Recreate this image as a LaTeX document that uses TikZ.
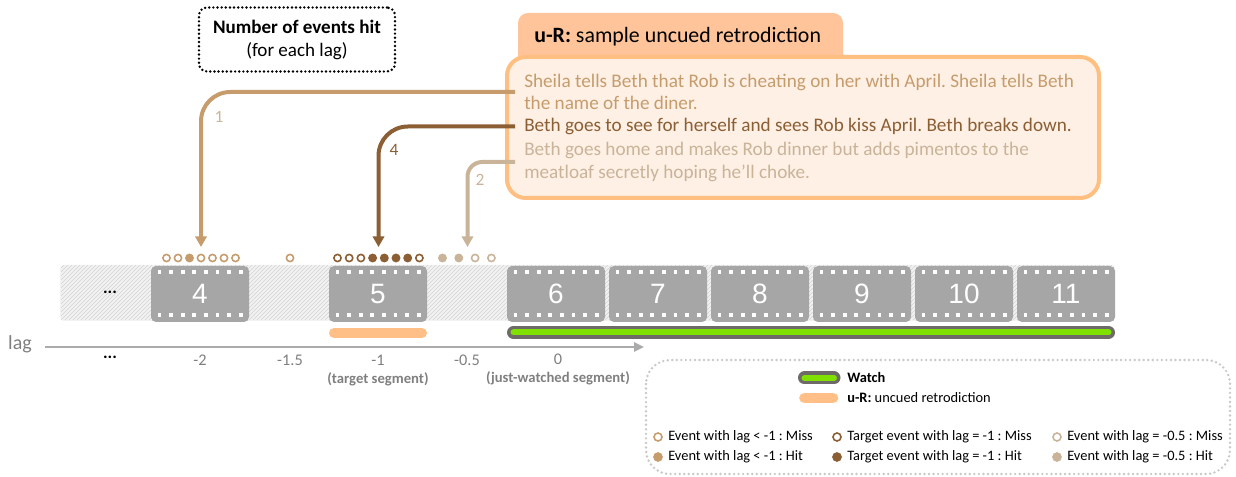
\documentclass[tikz,border=0pt]{standalone}
\usepackage{fontspec}
\setmainfont{Carlito}
\newfontfamily\numfont{Liberation Sans}
\usetikzlibrary{arrows.meta,patterns}
\frenchspacing

\definecolor{lagold}{HTML}{C69C6D}
\definecolor{lagtgt}{HTML}{8B5E34}
\definecolor{laghalf}{HTML}{C9B49A}
\definecolor{filmgray}{HTML}{A6A6A6}
\definecolor{peach}{HTML}{FFC499}
\definecolor{peachline}{HTML}{FFBF80}
\definecolor{peachfill}{HTML}{FEF0E4}
\definecolor{ucolor}{HTML}{FFBF87}
\definecolor{watchgreen}{HTML}{80E000}
\definecolor{watchedge}{HTML}{6E6A68}
\definecolor{axisgray}{HTML}{ABABAB}
\definecolor{labelgray}{HTML}{7F7F7F}
\definecolor{hatchbase}{HTML}{F2F2F2}
\definecolor{hatchline}{HTML}{D3D3D3}
\definecolor{legendline}{HTML}{C8C8C8}

\tikzset{
  filmframe/.style={rectangle, rounded corners=3.75pt, fill=filmgray, text=white,
    minimum width=73.5pt, minimum height=42pt, inner sep=0pt,
    font=\numfont\fontsize{21}{21}\selectfont},
  dot/.style={circle, inner sep=0pt, minimum size=5.4pt, line width=1.2pt},
  opendot/.style={dot, draw=#1, fill=white},
  fulldot/.style={dot, draw=#1, fill=#1},
  conn/.style={line width=3pt, -{Triangle[length=8pt,width=8.5pt]}},
  evtext/.style={anchor=west, inner xsep=6.75pt, inner ysep=0pt, align=left,
    font=\fontsize{14.4}{17.06}\selectfont},
  ticklab/.style={text=labelgray, font=\fontsize{12.2}{13}\selectfont},
  tickbold/.style={text=labelgray, font=\bfseries\fontsize{11}{13}\selectfont},
  countlab/.style={font=\fontsize{13}{15}\selectfont},
  legtext/.style={anchor=west, inner sep=0pt, font=\fontsize{10.8}{13}\selectfont},
  legdot/.style={circle, inner sep=0pt, minimum size=6pt, line width=1.2pt},
}

\begin{document}
\begin{tikzpicture}[x=0.75pt,y=-0.75pt]
\useasboundingbox (0,0) rectangle (1236,477);

% ---------- "Number of events hit" label ----------
\node[draw=black, line width=2pt, dash pattern=on 0pt off 3.1pt, line cap=round,
      rounded corners=6pt, minimum width=147pt, minimum height=48pt, align=center,
      font=\fontsize{14.3}{17.25}\selectfont] (nbox) at (297,39.5)
      {\textbf{Number of events hit}\\(for each lag)};

% ---------- retrodiction sample box ----------
\fill[peach, rounded corners=7.5pt] (518,80) rectangle (843,13);
\node[anchor=west, inner sep=0pt, font=\fontsize{16.4}{19}\selectfont] (hdr) at (534,37)
      {\textbf{u-R:} sample uncued retrodiction};
\node[draw=peachline, fill=peachfill, line width=3pt, rounded corners=14pt,
      minimum width=444pt, minimum height=105.75pt] (box) at (803,127.5) {};

\node[evtext, text=lagold] (ev1) at (515,92)
  {Sheila tells Beth that Rob is cheating on her with April. Sheila tells Beth\\the name of the diner.};
\node[evtext, text=lagtgt] (ev4) at (515,126.5)
  {Beth goes to see for herself and sees Rob kiss April. Beth breaks down.};
\node[evtext, text=laghalf] (ev2) at (515,162)
  {Beth goes home and makes Rob dinner but adds pimentos to the\\meatloaf secretly hoping he'll choke.};

% ---------- film strip ----------
\fill[hatchbase, rounded corners=3pt] (60,265) rectangle (1115,321);
\fill[pattern=north east lines, pattern color=hatchline] (61,266) rectangle (1114,320);

\foreach \n/\cx in {4/200, 5/378, 6/556, 7/658, 8/760, 9/862, 10/964, 11/1066}{
  \node[filmframe] (f\n) at (\cx,294) {\n};
  \foreach \i in {0,...,7}{
    \fill[white] (\cx-42.5+\i*11.6,270.4) rectangle ++(3.8,3.8);
    \fill[white] (\cx-42.5+\i*11.6,313.4) rectangle ++(3.8,3.8);
  }
}
\node[font=\bfseries\fontsize{13}{13}\selectfont] (stripdots) at (110,292) {...};

% ---------- condition bars ----------
\draw[ucolor, line width=7.5pt, line cap=round] (334,333) -- (422,333);
\draw[watchedge, line width=9.75pt, line cap=round] (513.5,332.5) -- (1108.5,332.5);
\draw[watchgreen, line width=4.5pt, line cap=round] (513.5,332.5) -- (1108.5,332.5);

% ---------- lag axis ----------
\node[text=labelgray, font=\fontsize{15}{15}\selectfont] (lag) at (20,344) {lag};
\coordinate (axstart) at (45,347);
\coordinate (axend) at (644,347);
\draw[axisgray, line width=1.5pt, -{Triangle[length=7.5pt,width=7pt]}] (axstart) -- (axend);

\node[font=\bfseries\fontsize{13}{13}\selectfont] (tdots) at (110,357) {...};
\node[ticklab] (t2) at (200,360) {-2};
\node[ticklab] (t15) at (290,360) {-1.5};
\node[ticklab] (t1) at (378,360) {-1};
\node[ticklab] (t05) at (467,360) {-0.5};
\node[ticklab] (t0) at (558,359) {0};
\node[tickbold] (tseg) at (378,379) {(target segment)};
\node[tickbold] (jseg) at (558,378) {(just-watched segment)};

% ---------- events hit per lag ----------
\foreach \i/\s in {0/opendot,1/opendot,2/fulldot,3/opendot,4/opendot,5/opendot,6/opendot}{
  \node[\s=lagold] (a\i) at (166.5+11.5*\i,258) {};
}
\node[opendot=lagold] (b0) at (290,258) {};
\foreach \i/\s in {0/opendot,1/opendot,2/opendot,3/fulldot,4/fulldot,5/fulldot,6/fulldot,7/opendot}{
  \node[\s=lagtgt] (c\i) at (337.5+11.7*\i,258) {};
}
\foreach \i/\s in {0/fulldot,1/fulldot,2/opendot,3/opendot}{
  \node[\s=laghalf] (d\i) at (442.5+16.3*\i,258) {};
}

% ---------- connectors from events to lags ----------
\coordinate (hit1) at (201,247);
\coordinate (hit4) at (378.5,247);
\coordinate (hit2) at (467.5,247);
\draw[conn, lagold, rounded corners=22pt] (ev1.west) -| (hit1);
\draw[conn, lagtgt, rounded corners=22pt] (ev4.west) -| (hit4);
\draw[conn, laghalf, rounded corners=11pt] (ev2.west) -| (hit2);
\node[countlab, text=laghalf] (n1) at (219,117) {1};
\node[countlab, text=lagtgt] (n4) at (394,150) {4};
\node[countlab, text=laghalf] (n2) at (480,180) {2};

% ---------- legend ----------
\draw[legendline, line width=2pt, dash pattern=on 0pt off 3.4pt, line cap=round,
      rounded corners=18pt] (646,360) rectangle (1230,474);
\draw[watchedge, line width=9.75pt, line cap=round] (804.5,378) -- (834,378);
\draw[watchgreen, line width=4.5pt, line cap=round] (804.5,378) -- (834,378);
\node[legtext, font=\bfseries\fontsize{10.8}{13}\selectfont] (lwatch) at (847,378) {Watch};
\draw[ucolor, line width=8pt, line cap=round] (804.5,398) -- (833,398);
\node[legtext] (lur) at (847,398) {\textbf{u-R:} uncued retrodiction};

\node[legdot, draw=lagold, fill=white] (k1) at (658,437) {};
\node[legtext] at (668,437) {Event with lag < -1 : Miss};
\node[legdot, draw=lagold, fill=lagold] (k2) at (658,457) {};
\node[legtext] at (668,457) {Event with lag < -1 : Hit};
\node[legdot, draw=lagtgt, fill=white] (k3) at (837,437) {};
\node[legtext] at (847,437) {Target event with lag = -1 : Miss};
\node[legdot, draw=lagtgt, fill=lagtgt] (k4) at (837,457) {};
\node[legtext] at (847,457) {Target event with lag = -1 : Hit};
\node[legdot, draw=laghalf, fill=white] (k5) at (1057,437) {};
\node[legtext] at (1067,437) {Event with lag = -0.5 : Miss};
\node[legdot, draw=laghalf, fill=laghalf] (k6) at (1057,457) {};
\node[legtext] at (1067,457) {Event with lag = -0.5 : Hit};
\end{tikzpicture}
\end{document}
